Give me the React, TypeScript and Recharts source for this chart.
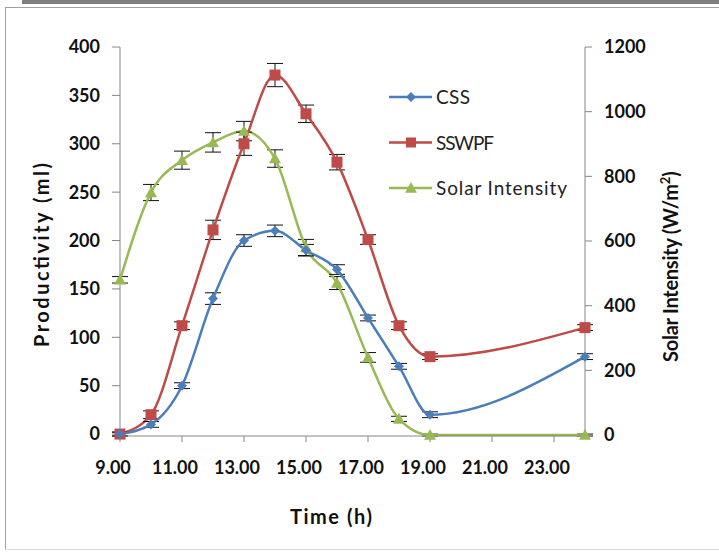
import React from "react";
import { ComposedChart, Line, XAxis, YAxis, ErrorBar } from "recharts";

const hours = [9, 10, 11, 12, 13, 14, 15, 16, 17, 18, 19, 24];
const cssValues = [0, 10, 50, 140, 200, 210, 190, 170, 120, 70, 20, 80];
const cssErrors = [2, 3, 3, 6, 6, 6, 6, 5, 3, 3, 3, 3];
const sswpfValues = [0, 20, 112, 211, 300, 371, 331, 281, 201, 112, 80, 110];
const sswpfErrors = [2, 4, 4, 10, 12, 12, 9, 8, 5, 4, 3, 3];
const solarValues = [480, 750, 850, 905, 940, 855, 580, 470, 240, 50, 0, 0];
const solarErrors = [10, 25, 28, 30, 30, 27, 25, 20, 15, 8, 3, 3];
const xTicks = [9, 11, 13, 15, 17, 19, 21, 23];
const leftTicks = [0, 50, 100, 150, 200, 250, 300, 350, 400];
const rightTicks = [0, 200, 400, 600, 800, 1000, 1200];

const data = hours.map((h, i) => ({
  h,
  css: cssValues[i],
  cssErr: cssErrors[i],
  sswpf: sswpfValues[i],
  sswpfErr: sswpfErrors[i],
  solar: solarValues[i],
  solarErr: solarErrors[i],
}));

const BLUE = "#4a7ebb";
const RED = "#be4b48";
const GREEN = "#98b954";
const AXIS = "#868686";
const FONT = "Lato, 'Open Sans', sans-serif";

const Diamond = (props: any) => {
  const { cx, cy, fill, r = 5 } = props;
  if (cx == null || cy == null) return null;
  return <path d={`M${cx},${cy - r} L${cx + r},${cy} L${cx},${cy + r} L${cx - r},${cy} Z`} fill={fill} />;
};
const Square = (props: any) => {
  const { cx, cy, fill, r = 5 } = props;
  if (cx == null || cy == null) return null;
  return <rect x={cx - r} y={cy - r} width={2 * r} height={2 * r} fill={fill} />;
};
const Triangle = (props: any) => {
  const { cx, cy, fill, r = 6 } = props;
  if (cx == null || cy == null) return null;
  return <path d={`M${cx},${cy - r} L${cx + r},${cy + r * 0.8} L${cx - r},${cy + r * 0.8} Z`} fill={fill} />;
};

const legendItems = [
  { name: "CSS", color: BLUE, shape: "diamond", len: 34 },
  { name: "SSWPF", color: RED, shape: "square", len: 58 },
  { name: "Solar Intensity", color: GREEN, shape: "triangle", len: 131 },
];

const LegendBlock = ({ x, y }: { x: number; y: number }) => (
  <g transform={`translate(${x},${y})`}>
    {legendItems.map((it, i) => {
      const yy = i * 45.5;
      return (
        <g key={it.name}>
          <line x1={0} x2={43} y1={yy} y2={yy} stroke={it.color} strokeWidth={2.5} />
          {it.shape === "diamond" && <Diamond cx={22} cy={yy} fill={it.color} r={5} />}
          {it.shape === "square" && <Square cx={22} cy={yy} fill={it.color} r={5} />}
          {it.shape === "triangle" && <Triangle cx={22} cy={yy} fill={it.color} r={6} />}
          <text
            x={47}
            y={yy + 7}
            fontFamily={FONT}
            fontSize={19}
            fill="#222"
            textLength={it.len}
            lengthAdjust="spacing"
          >
            {it.name}
          </text>
        </g>
      );
    })}
  </g>
);

const tickStyle = { fill: "#111", fontSize: 18, fontWeight: 700, fontFamily: FONT };

export default function App() {
  return (
    <div style={{ position: "relative", width: 719, height: 555, margin: -8, background: "#fff" }}>
      <ComposedChart width={719} height={555} data={data} margin={{ top: 47, right: 74, left: 60, bottom: 89 }}>
        <XAxis
          dataKey="h"
          type="number"
          domain={[9, 24]}
          ticks={xTicks}
          tickFormatter={(v: number) => v.toFixed(2)}
          stroke={AXIS}
          tickSize={6}
          tickMargin={19}
          height={30}
          tick={{ ...tickStyle, dx: -7 }}
          interval={0}
        />
        <YAxis
          yAxisId="left"
          domain={[0, 400]}
          ticks={leftTicks}
          width={60}
          stroke={AXIS}
          tickSize={8}
          tickMargin={12}
          tick={tickStyle}
          interval={0}
        />
        <YAxis
          yAxisId="right"
          orientation="right"
          domain={[0, 1200]}
          ticks={rightTicks}
          width={60}
          stroke={AXIS}
          tickSize={7}
          tickMargin={12}
          tick={tickStyle}
          interval={0}
        />
        <Line
          yAxisId="right"
          dataKey="solar"
          type="monotone"
          stroke={GREEN}
          strokeWidth={2.5}
          dot={<Triangle fill={GREEN} r={6} />}
          isAnimationActive={false}
        >
          <ErrorBar dataKey="solarErr" direction="y" width={8} stroke="#111" strokeWidth={1} />
        </Line>
        <Line
          yAxisId="left"
          dataKey="sswpf"
          type="monotone"
          stroke={RED}
          strokeWidth={2.5}
          dot={<Square fill={RED} r={5.5} />}
          isAnimationActive={false}
        >
          <ErrorBar dataKey="sswpfErr" direction="y" width={8} stroke="#111" strokeWidth={1} />
        </Line>
        <Line
          yAxisId="left"
          dataKey="css"
          type="monotone"
          stroke={BLUE}
          strokeWidth={2.5}
          dot={<Diamond fill={BLUE} r={5} />}
          isAnimationActive={false}
        >
          <ErrorBar dataKey="cssErr" direction="y" width={8} stroke="#111" strokeWidth={1} />
        </Line>
        <LegendBlock x={389} y={97} />
        <text
          x={290}
          y={524}
          fontFamily={FONT}
          fontSize={20}
          fontWeight={700}
          fill="#111"
          textLength={82}
          lengthAdjust="spacing"
        >
          Time (h)
        </text>
        <text
          x={0}
          y={0}
          transform="translate(49,347) rotate(-90)"
          fontFamily={FONT}
          fontSize={20}
          fontWeight={700}
          fill="#111"
          textLength={184}
          lengthAdjust="spacing"
        >
          Productivity (ml)
        </text>
        <text
          x={0}
          y={0}
          transform="translate(678,362) rotate(-90)"
          fontFamily={FONT}
          fontSize={20}
          fontWeight={700}
          fill="#111"
        >
          <tspan textLength={178} lengthAdjust="spacing">Solar Intensity  (W/m</tspan>
          <tspan dy={-8} fontSize={13}>2</tspan>
          <tspan dy={8}>)</tspan>
        </text>
      </ComposedChart>
      <div
        style={{
          position: "fixed",
          left: 0,
          top: 0,
          width: 719,
          height: 555,
          zIndex: 10,
          pointerEvents: "none",
        }}
      >
        <div style={{ position: "absolute", left: 22, top: 0, width: 697, height: 4, background: "#7f7f7f" }} />
        <div style={{ position: "absolute", left: 5, top: 7, width: 714, height: 1, background: "#a0a0a0" }} />
        <div style={{ position: "absolute", left: 5, top: 7, width: 1, height: 543, background: "#a0a0a0" }} />
        <div style={{ position: "absolute", left: 5, top: 549, width: 714, height: 1, background: "#dcdcdc" }} />
      </div>
    </div>
  );
}
